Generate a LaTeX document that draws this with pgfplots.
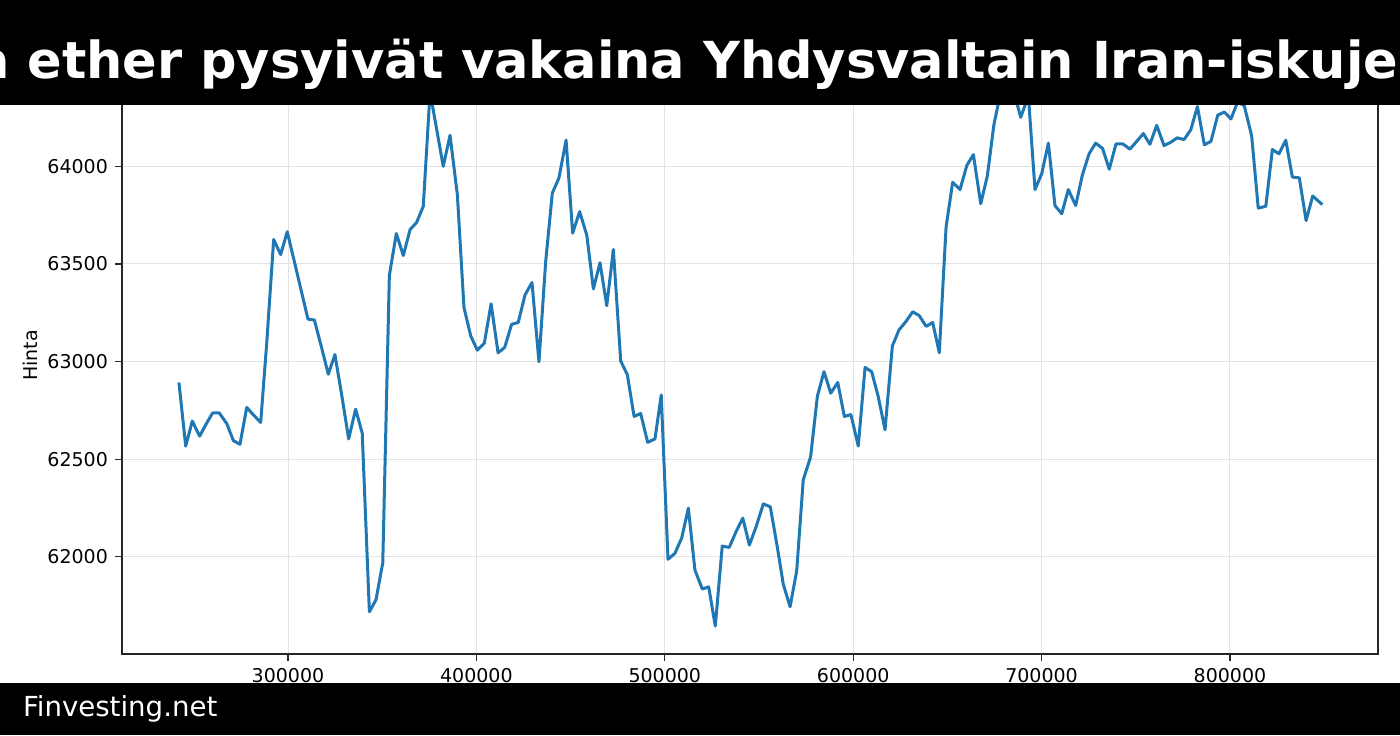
\documentclass[border=0pt]{standalone}
\usepackage{pgfplots}
\pgfplotsset{compat=1.18}
\usepackage{pgfplotstable}
\usepackage{fontspec}
\setmainfont{DejaVu Sans}
\definecolor{c0}{HTML}{1F77B4}
\pgfplotstableread{
x y
242100 62893
245700 62567
249200 62695
253100 62618
256500 62679
260000 62737
263500 62737
267500 62682
271000 62595
274500 62576
278100 62765
281800 62725
285500 62688
288700 63094
292400 63625
296100 63548
299600 63665
303300 63515
307100 63360
310600 63217
314000 63213
317700 63076
321400 62935
324900 63036
328500 62829
332200 62604
335900 62756
339400 62633
343200 61718
346700 61780
350300 61969
353800 63442
357500 63656
361200 63543
364800 63676
368300 63713
371800 63795
375400 64380
382400 64000
386000 64159
389900 63854
393400 63277
397000 63131
400500 63058
404200 63094
407800 63296
411500 63045
415000 63072
418700 63191
422200 63200
425800 63341
429500 63405
433200 62999
436800 63515
440300 63863
443800 63940
447600 64134
451100 63658
454800 63768
458600 63647
462100 63372
465600 63506
469200 63286
472700 63574
476600 63003
480100 62933
483700 62719
487200 62734
490900 62586
494800 62604
498100 62829
501700 61987
505400 62018
509000 62097
512500 62249
516000 61932
519900 61835
523300 61846
526800 61645
530500 62055
534200 62048
537800 62128
541400 62198
544900 62060
548400 62152
552300 62271
556000 62256
559700 62051
562900 61859
566500 61744
570000 61927
573500 62395
577400 62512
581000 62823
584500 62948
588100 62838
591800 62893
595300 62719
598800 62728
602700 62567
606300 62970
609800 62948
613300 62820
616900 62651
620800 63080
624300 63162
627900 63204
631600 63255
635100 63235
638700 63180
642200 63200
645700 63045
649300 63689
652800 63918
656700 63881
660300 64004
663800 64060
667700 63808
671200 63951
674700 64214
678300 64380
681800 64420
685400 64380
688900 64251
693000 64360
696500 63881
700100 63963
703600 64119
707100 63799
710700 63757
714200 63881
718100 63799
721600 63954
725200 64064
728700 64119
732400 64091
735900 63985
739500 64115
743100 64115
746900 64088
750500 64128
754000 64168
757500 64113
761100 64210
765000 64106
768500 64123
772000 64146
775600 64137
779200 64187
782700 64306
786400 64110
789900 64128
793500 64262
797000 64278
800500 64243
804100 64330
807600 64310
811500 64156
815000 63786
819000 63795
822500 64086
826000 64064
829600 64134
833100 63945
836800 63941
840400 63722
843900 63848
849000 63804
}\pricedata
\begin{document}
\begin{tikzpicture}
\path[use as bounding box] (0,0) rectangle (700pt,367.5pt);
\begin{axis}[
  at={(61pt,40.5pt)}, anchor=south west,
  width=628pt, height=298.5pt, scale only axis,
  xmin=211887, xmax=878572, ymin=61502, ymax=64560,
  xtick={300000,400000,500000,600000,700000,800000},
  ytick={62000,62500,63000,63500,64000},
  scaled ticks=false,
  /pgf/number format/fixed,
  /pgf/number format/1000 sep={},
  /pgf/number format/assume math mode=true,
  grid=major,
  grid style={color=black!11, line width=0.5pt},
  axis line style={line width=0.7pt, black!85},
  tick align=outside, tick pos=left,
  major tick length=3.5pt,
  tick style={black!85, line width=0.6pt},
  ticklabel style={font=\fontsize{9.5}{11}\selectfont},
  ylabel={Hinta},
  ylabel style={font=\fontsize{9.5}{11}\selectfont, at={(axis description cs:-0.0732,0.5)}, anchor=center},
]
\addplot[c0, line width=1.5pt, line join=round] table[x=x,y=y] {\pricedata};
\end{axis}
\fill[black] (0,315pt) rectangle (700pt,367.5pt);
\begin{scope}
\clip (0,0) rectangle (700pt,367.5pt);
\node[font=\fontsize{25.5}{30}\selectfont\bfseries, text=white, anchor=base, inner sep=0pt] at (350pt,328pt) {Bitcoin ja ether pysyivät vakaina Yhdysvaltain Iran-iskujen jälkeen};
\end{scope}
\fill[black] (0,0) rectangle (700pt,26pt);
\node[font=\fontsize{13.8}{15}\selectfont, text=white, anchor=base west, inner sep=0pt] at (11.3pt,9.2pt) {Finvesting.net};
\end{tikzpicture}
\end{document}
